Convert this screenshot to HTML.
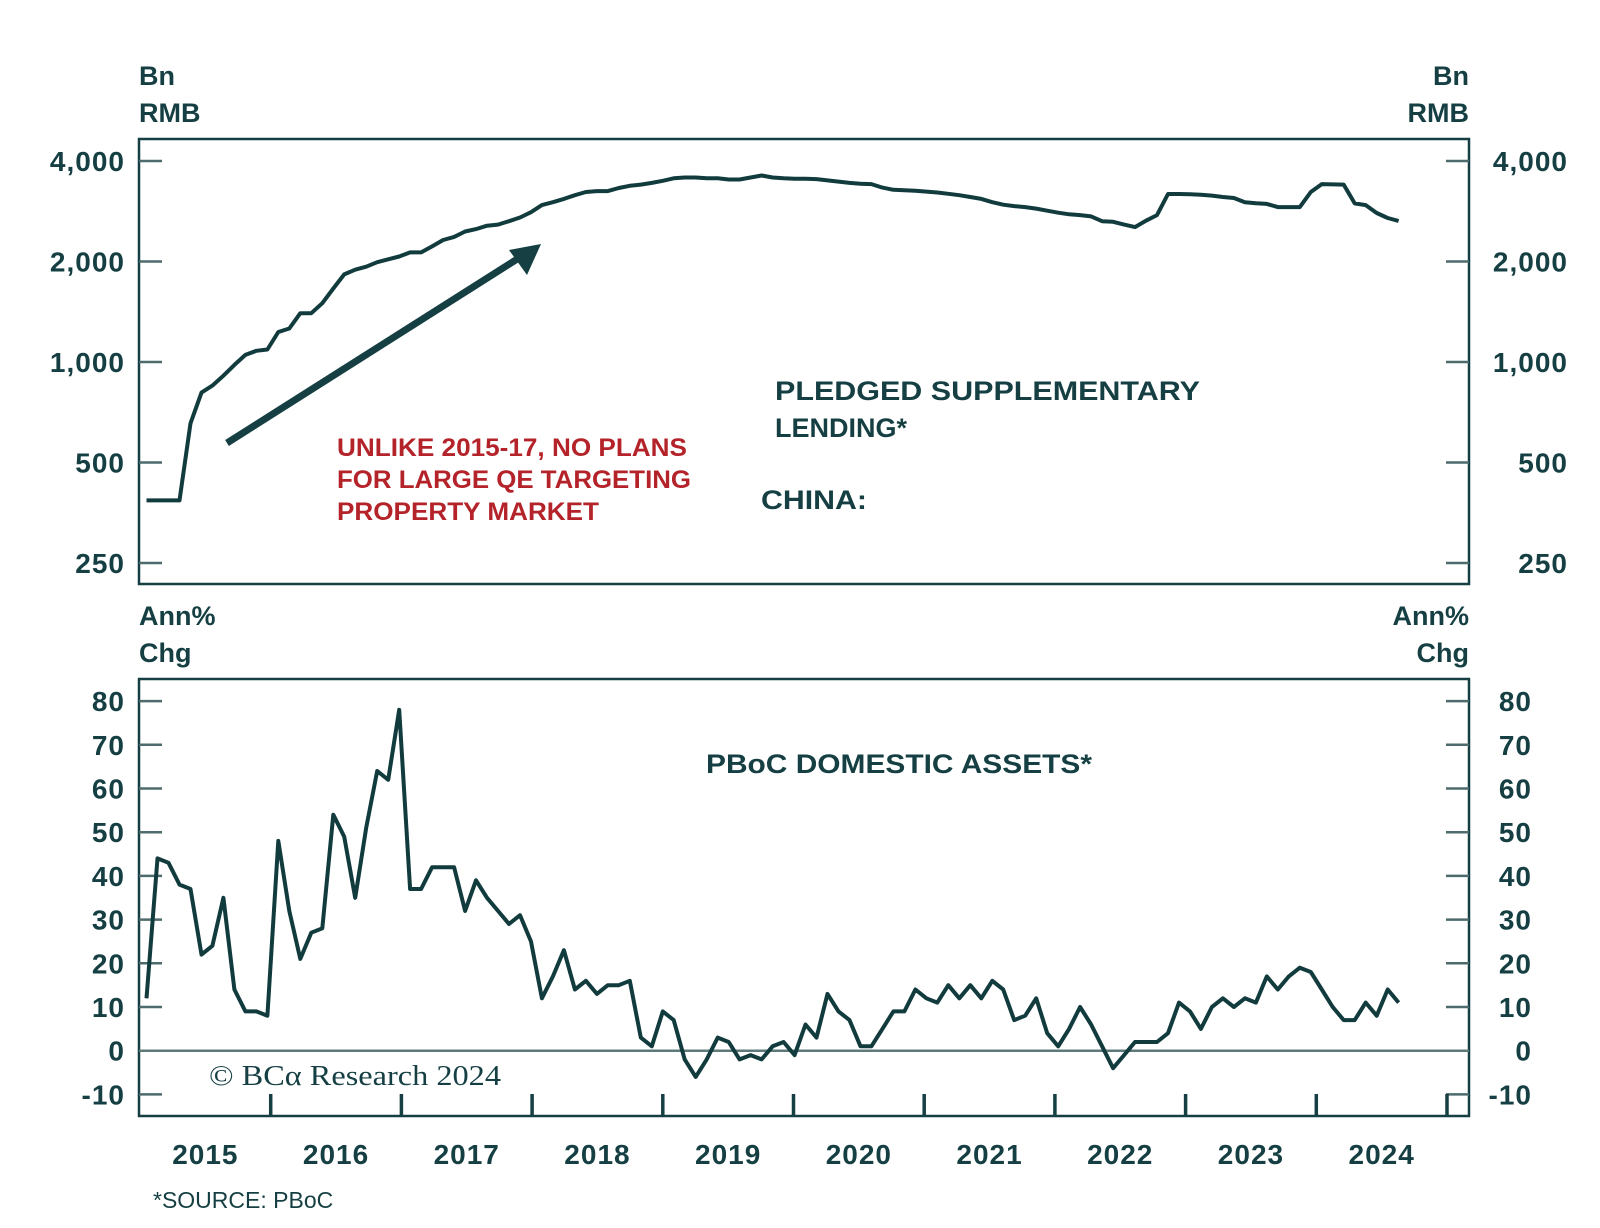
<!DOCTYPE html>
<html><head><meta charset="utf-8"><style>
html,body{margin:0;padding:0;background:#fff;}
svg{display:block;}
text{font-family:"Liberation Sans",sans-serif;}
</style></head><body>
<svg id="chart" width="1600" height="1228" viewBox="0 0 1600 1228" xmlns="http://www.w3.org/2000/svg">
<g id="static" fill="#153f42" font-weight="bold">
  <text x="139" y="85" font-size="27">Bn</text>
  <text x="139" y="122" font-size="27">RMB</text>
  <text x="1469" y="85" font-size="27" text-anchor="end">Bn</text>
  <text x="1469" y="122" font-size="27" text-anchor="end">RMB</text>
  <text x="139" y="625" font-size="27">Ann%</text>
  <text x="139" y="662" font-size="27">Chg</text>
  <text x="1469" y="625" font-size="27" text-anchor="end">Ann%</text>
  <text x="1469" y="662" font-size="27" text-anchor="end">Chg</text>
  <text x="775" y="400" font-size="27" textLength="425" lengthAdjust="spacingAndGlyphs">PLEDGED SUPPLEMENTARY</text>
  <text x="775" y="437" font-size="27">LENDING*</text>
  <text x="761" y="509" font-size="27" textLength="106" lengthAdjust="spacingAndGlyphs">CHINA:</text>
  <text x="706" y="773" font-size="27" textLength="386" lengthAdjust="spacingAndGlyphs">PBoC DOMESTIC ASSETS*</text>
  <text x="153" y="1208" font-size="23" font-weight="normal">*SOURCE: PBoC</text>
  <text x="209" y="1085" font-size="29" font-weight="normal" style="font-family:'Liberation Serif',serif" textLength="292" lengthAdjust="spacingAndGlyphs">© BCα Research 2024</text>
  <g fill="#b5232a" font-size="25" font-weight="bold">
    <text x="337" y="456" textLength="350" lengthAdjust="spacingAndGlyphs">UNLIKE 2015-17, NO PLANS</text>
    <text x="337" y="488" textLength="354" lengthAdjust="spacingAndGlyphs">FOR LARGE QE TARGETING</text>
    <text x="337" y="520" textLength="262" lengthAdjust="spacingAndGlyphs">PROPERTY MARKET</text>
  </g>
  <line x1="227" y1="443" x2="522" y2="256" stroke="#153f42" stroke-width="7"/>
  <polygon points="541,244 509,250 527,275" fill="#153f42"/>
</g>
<g id="dyn"></g>
</svg>
<script>
const years = ['2015','2016','2017','2018','2019','2020','2021','2022','2023','2024'];
const startYear = 2015.05;
const endYear = 2024.63;
const topTicks = [250, 500, 1000, 2000, 4000];
const topTickLabels = ['250','500','1,000','2,000','4,000'];
const bottomTicks = [-10,0,10,20,30,40,50,60,70,80];
const pledgedLending = [385,385,385,385,655,810,850,910,980,1050,1080,1090,1230,1260,1400,1400,1500,1660,1830,1890,1930,1990,2030,2070,2130,2130,2220,2320,2370,2460,2500,2560,2580,2640,2710,2810,2950,3010,3080,3160,3230,3250,3250,3320,3370,3400,3440,3490,3550,3570,3570,3550,3550,3520,3520,3570,3620,3570,3550,3540,3540,3530,3500,3470,3440,3420,3410,3330,3280,3270,3260,3240,3220,3190,3160,3120,3080,3010,2960,2930,2910,2880,2840,2800,2770,2755,2730,2640,2630,2580,2535,2650,2755,3185,3185,3180,3170,3150,3120,3100,3010,2990,2975,2910,2910,2910,3230,3410,3405,3400,2985,2950,2795,2700,2645];
const domesticAssets = [12,44,43,38,37,22,24,35,14,9,9,8,48,32,21,27,28,54,49,35,51,64,62,78,37,37,42,42,42,32,39,35,32,29,31,25,12,17,23,14,16,13,15,15,16,3,1,9,7,-2,-6,-2,3,2,-2,-1,-2,1,2,-1,6,3,13,9,7,1,1,5,9,9,14,12,11,15,12,15,12,16,14,7,8,12,4,1,5,10,6,1,-4,-1,2,2,2,4,11,9,5,10,12,10,12,11,17,14,17,19,18,14,10,7,7,11,8,14,11];

const NS='http://www.w3.org/2000/svg';
const g=document.getElementById('dyn');
const L=139,R=1469,TT=139,TB=584,BT=679,BB=1116;
const C='#153f42',TC='#4d6b6c';
function xYear(y){return 140+130.7*(y-2015);}
function xIdx(i,n){return xYear(startYear+(endYear-startYear)*i/(n-1));}
function yTop(v){return 161+100.5*Math.log2(4000/v);}
function yBot(v){return 1050.7-4.37*v;}
function mk(tag,attrs){const e=document.createElementNS(NS,tag);for(const k in attrs)e.setAttribute(k,attrs[k]);g.appendChild(e);return e;}

let e=mk('rect',{x:L,y:TT,width:R-L,height:TB-TT,fill:'none',stroke:C,'stroke-width':2.5});


e=mk('rect',{x:L,y:BT,width:R-L,height:BB-BT,fill:'none',stroke:C,'stroke-width':2.5});



topTicks.forEach((v,k)=>{
  const y=yTop(v);
  let t=mk('line',{x1:L,x2:L+23,y1:y,y2:y,stroke:TC,'stroke-width':2.5});
  
  
  t=mk('line',{x1:R-23,x2:R,y1:y,y2:y,stroke:TC,'stroke-width':2.5});
  
  
  let l=mk('text',{x:125,y:y+10,'text-anchor':'end','font-size':28,'font-weight':'bold',fill:C,'letter-spacing':1});
  l.textContent=topTickLabels[k];
  
  
  l=mk('text',{x:1568,y:y+10,'text-anchor':'end','font-size':28,'font-weight':'bold',fill:C,'letter-spacing':1});
  l.textContent=topTickLabels[k];
  
  
});
bottomTicks.forEach(v=>{
  const y=yBot(v);
  let t=mk('line',{x1:L,x2:L+23,y1:y,y2:y,stroke:TC,'stroke-width':2.5});
  
  
  t=mk('line',{x1:R-23,x2:R,y1:y,y2:y,stroke:TC,'stroke-width':2.5});
  
  
  let l=mk('text',{x:125,y:y+10,'text-anchor':'end','font-size':28,'font-weight':'bold',fill:C,'letter-spacing':1});
  l.textContent=String(v);
  
  
  l=mk('text',{x:1532,y:y+10,'text-anchor':'end','font-size':28,'font-weight':'bold',fill:C,'letter-spacing':1});
  l.textContent=String(v);
  
  
});
e=mk('line',{x1:L,x2:R,y1:yBot(0),y2:yBot(0),stroke:'#5f7a7a','stroke-width':2.5});


years.forEach((yr,k)=>{
  const y0=+yr;
  const xt=xYear(y0+1);
  let t=mk('line',{x1:xt,x2:xt,y1:BB,y2:BB-22,stroke:C,'stroke-width':3.5});
  
  
  let l=mk('text',{x:xYear(y0+0.5),y:1164,'text-anchor':'middle','font-size':28,'font-weight':'bold',fill:C,'letter-spacing':1});
  l.textContent=yr;
  
  
});
function path(arr,fy){return arr.map((v,i)=>(i?'L':'M')+xIdx(i,arr.length).toFixed(1)+','+fy(v).toFixed(1)).join('');}
e=mk('path',{d:path(pledgedLending,yTop),fill:'none',stroke:'#123b3e','stroke-width':4,'stroke-linejoin':'round'});


e=mk('path',{d:path(domesticAssets,yBot),fill:'none',stroke:'#123b3e','stroke-width':4,'stroke-linejoin':'round'});


</script>
</body></html>
